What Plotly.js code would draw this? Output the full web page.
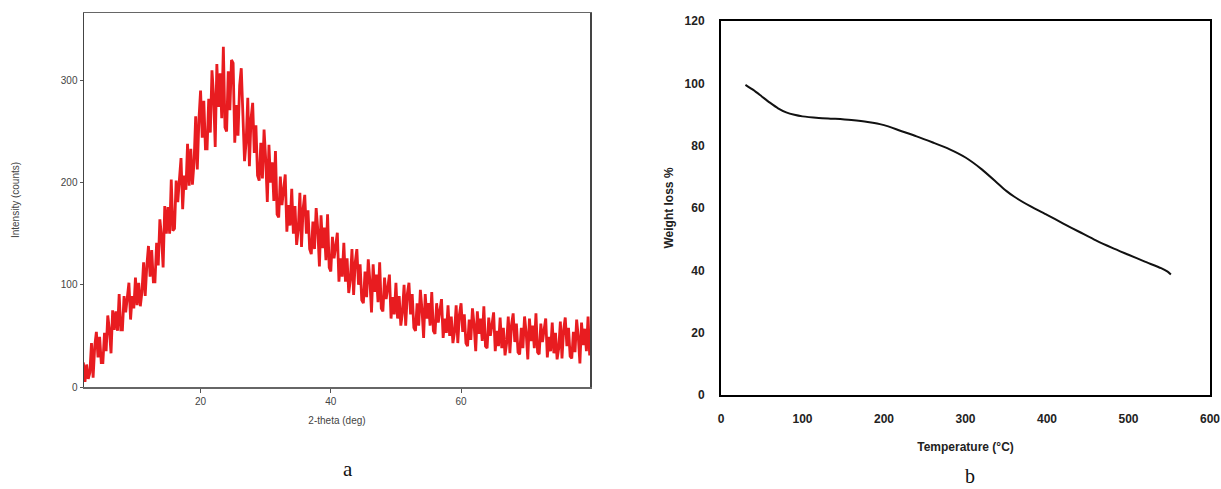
<!DOCTYPE html>
<html>
<head>
<meta charset="utf-8">
<script src="https://cdn.plot.ly/plotly-3.0.1.min.js"></script>
<style>html,body{margin:0;padding:0;background:#fff;}#chart{width:1221px;height:489px;}</style>
</head>
<body>
<div id="chart"></div>
<script>
// ---- Panel a: XRD pattern (intensity, 0.25 deg sampling) ----
const xrdStart = 2;
const xrdStep = 0.25;
const xrdIntensity = [
  24, 5, 22, 8,       14, 43, 9, 40,       54, 29, 49, 24,      24, 53, 35, 70,
  56, 33, 75, 56,     74, 55, 91, 56,      56, 89, 73, 88,      102, 66, 89, 77,
  107, 80, 102, 79,   93, 122, 89, 119,    138, 108, 134, 103,  103, 141, 119, 164,
  148, 117, 177, 150, 176, 150, 203, 153,  155, 202, 181, 203,  224, 174, 207, 193,
  238, 197, 233, 198, 220, 265, 213, 262,  290, 244, 280, 233,  233, 282, 249, 310,
  285, 235, 316, 274, 307, 263, 333, 254,  250, 309, 271, 320,  317, 239, 276, 246,
  295, 312, 271, 221, 240, 283, 216, 263,  278, 229, 256, 207,  202, 239, 204, 252,
  223, 181, 237, 200, 220, 182, 231, 169,  166, 206, 178, 194,  208, 152, 178, 158,
  194, 150, 177, 139, 154, 190, 137, 175,  188, 150, 173, 135,  130, 162, 135, 175,
  154, 118, 168, 136, 156, 124, 169, 117,  113, 147, 126, 138,  151, 103, 126, 108,
  141, 103, 126, 92,  105, 135, 90, 122,   135, 100, 120, 85,   82, 113, 88, 125,
  104, 73, 120, 93,   110, 83, 122, 77,    74, 107, 86, 97,     110, 67, 88, 71,
  102, 67, 89, 60,    73, 100, 60, 91,     102, 71, 91, 58,     55, 82, 60, 95,
  76, 48, 91, 67,     82, 60, 93, 55,      52, 82, 63, 75,      86, 48, 67, 53,
  80, 50, 69, 43,     54, 80, 43, 71,      82, 54, 71, 43,      40, 66, 46, 77,
  61, 35, 74, 52,     67, 45, 79, 40,      38, 68, 50, 61,      73, 35, 55, 40,
  68, 38, 58, 31,     43, 69, 33, 61,      72, 44, 62, 34,      32, 58, 38, 69,
  53, 27, 67, 45,     60, 38, 72, 34,      32, 62, 44, 56,      67, 29, 49, 35,
  63, 33, 53, 27,     38, 64, 28, 56,      68, 40, 58, 30,      28, 54, 34, 66,
  49, 23, 63, 41,     57, 35, 69, 31,      44
];
const xrdTheta = xrdIntensity.map((_, i) => xrdStart + i * xrdStep);
const xrdXTicks = [20, 40, 60];
const xrdYTicks = [0, 100, 200, 300];

// ---- Panel b: TGA curve ----
const tgaTemp = [30, 40, 50, 60, 70, 80, 90, 100, 120, 140, 160, 180, 200, 220, 240, 260, 280, 300,
                 320, 340, 350, 360, 380, 400, 420, 440, 460, 480, 500, 520, 540, 548, 552];
const tgaWeight = [99.5, 97.8, 95.8, 93.8, 92.0, 90.7, 89.9, 89.4, 88.9, 88.6, 88.2, 87.6, 86.6, 84.8, 83.0, 81.0, 78.9, 76.2,
                   72.4, 67.8, 65.5, 63.6, 60.5, 57.8, 55.0, 52.3, 49.6, 47.2, 45.0, 42.8, 40.7, 39.6, 38.7];
const tgaXTicks = [0, 100, 200, 300, 400, 500, 600];
const tgaYTicks = [0, 20, 40, 60, 80, 100, 120];

const W = 1221, H = 489;
const px = v => v / W;
const py = v => 1 - v / H;

const traces = [
  {x: xrdTheta, y: xrdIntensity, type: 'scatter', mode: 'lines', xaxis: 'x', yaxis: 'y',
   line: {color: 'rgb(232,28,32)', width: 2.8}, hoverinfo: 'x+y'},
  {x: tgaTemp, y: tgaWeight, type: 'scatter', mode: 'lines', xaxis: 'x2', yaxis: 'y2',
   line: {color: '#111', width: 2, shape: 'spline', smoothing: 0.6}, hoverinfo: 'x+y'}
];

const leftFont = {family: 'Arial, "Liberation Sans", sans-serif', size: 10, color: '#444'};
const rightFont = {family: 'Arial, "Liberation Sans", sans-serif', size: 12, color: '#222', weight: 'bold'};

const layout = {
  width: W, height: H,
  margin: {l: 0, r: 0, t: 0, b: 0},
  paper_bgcolor: '#fff', plot_bgcolor: '#fff',
  showlegend: false,
  xaxis: {
    domain: [px(84), px(590)], anchor: 'y', range: [2.1, 79.8],
    tickvals: xrdXTicks, ticks: 'outside', ticklen: 4, tickcolor: '#555', tickwidth: 1,
    showgrid: false, zeroline: false, showline: true, linecolor: '#666', linewidth: 1.5, mirror: true,
    tickfont: leftFont,
    title: {text: '2-theta (deg)', font: leftFont, standoff: 11}
  },
  yaxis: {
    domain: [py(387), py(13)], anchor: 'x', range: [0, 366],
    tickvals: xrdYTicks, ticks: 'outside', ticklen: 3, tickcolor: '#555', tickwidth: 1,
    showgrid: false, zeroline: false, showline: true, linecolor: '#444', linewidth: 1.5, mirror: true,
    tickfont: leftFont,
    title: {text: 'Intensity (counts)', font: leftFont, standoff: 39}
  },
  xaxis2: {
    domain: [px(721), px(1210)], anchor: 'y2', range: [0, 600],
    tickvals: tgaXTicks, ticks: '', ticklabelstandoff: 12,
    showgrid: false, zeroline: false, showline: true, linecolor: '#000', linewidth: 2, mirror: true,
    tickfont: rightFont,
    title: {text: 'Temperature (°C)', font: rightFont, standoff: 17}
  },
  yaxis2: {
    domain: [py(395), py(21)], anchor: 'x2', range: [0, 120],
    tickvals: tgaYTicks, ticks: '', ticklabelstandoff: 12,
    showgrid: false, zeroline: false, showline: true, linecolor: '#000', linewidth: 2, mirror: true,
    tickfont: rightFont,
    title: {text: 'Weight loss %', font: rightFont, standoff: 8}
  },
  annotations: [
    {text: 'a', xref: 'paper', yref: 'paper', x: px(348), y: py(469), xanchor: 'center', yanchor: 'middle',
     showarrow: false, font: {family: '"Liberation Serif", "Times New Roman", serif', size: 21, color: '#111'}},
    {text: 'b', xref: 'paper', yref: 'paper', x: px(970), y: py(476), xanchor: 'center', yanchor: 'middle',
     showarrow: false, font: {family: '"Liberation Serif", "Times New Roman", serif', size: 20, color: '#111'}}
  ]
};

Plotly.newPlot('chart', traces, layout, {displayModeBar: false, staticPlot: true});
</script>
</body>
</html>
